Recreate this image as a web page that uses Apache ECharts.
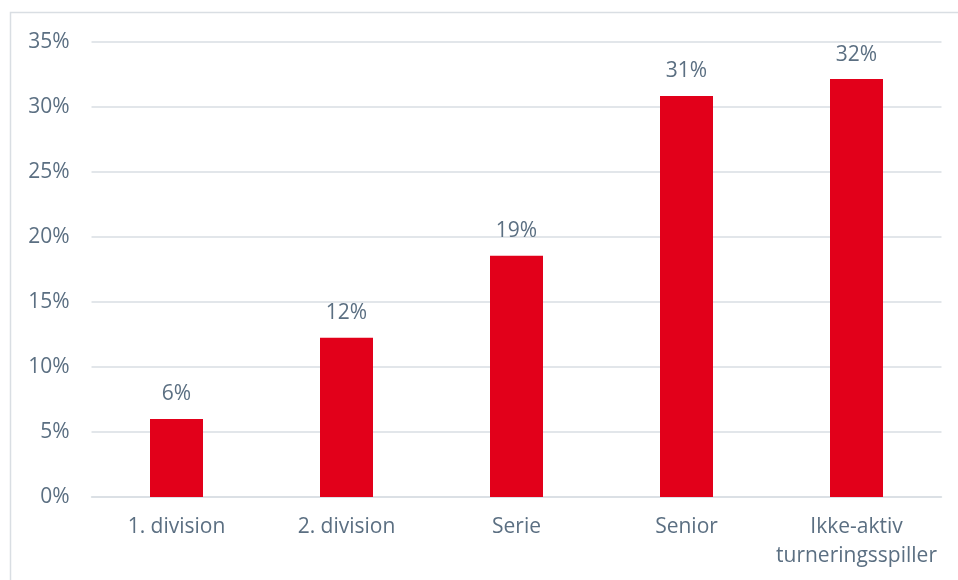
<!DOCTYPE html>
<html>
<head>
<meta charset="utf-8">
<script src="https://cdn.jsdelivr.net/npm/echarts@6/dist/echarts.min.js"></script>
<style>html,body{margin:0;padding:0;background:#fff}#c{width:958px;height:580px}</style>
</head>
<body>
<div id="c"></div>
<script>
const categories = ['1. division', '2. division', 'Serie', 'Senior', 'Ikke-aktiv\nturneringsspiller'];
const values = [6.0, 12.25, 18.55, 30.85, 32.15];
const yTicks = [0, 5, 10, 15, 20, 25, 30, 35];

const textColor = '#5B6F82';
const font = 'Open Sans';
const chart = echarts.init(document.getElementById('c'), null, {renderer: 'canvas'});
chart.setOption({
  animation: false,
  backgroundColor: '#fff',
  graphic: [{
    type: 'rect', silent: true,
    shape: {x: 10.5, y: 12.5, width: 1000, height: 1000},
    style: {fill: 'none', stroke: '#D9DEE3', lineWidth: 1.5}
  }],
  grid: {left: 91.5, right: 16.5, top: 42, bottom: 83, containLabel: false},
  xAxis: {
    type: 'category',
    data: categories,
    axisTick: {show: false},
    axisLine: {show: true, lineStyle: {color: '#D9DEE3', width: 1.5}},
    axisLabel: {color: textColor, fontFamily: font, fontSize: 21, lineHeight: 29, margin: 16, interval: 0}
  },
  yAxis: {
    type: 'value',
    min: yTicks[0], max: yTicks[yTicks.length - 1], interval: 5,
    axisLine: {show: false},
    axisTick: {show: false},
    splitLine: {lineStyle: {color: '#D9DEE3', width: 1.5}},
    axisLabel: {color: textColor, fontFamily: font, fontSize: 21, margin: 22, formatter: '{value}%'}
  },
  series: [{
    type: 'bar',
    data: values,
    barWidth: 53,
    itemStyle: {color: '#E2001A'},
    label: {
      show: true, position: 'top', distance: 14,
      color: textColor, fontFamily: font, fontSize: 21,
      formatter: p => Math.round(p.value) + '%'
    }
  }]
});
</script>
</body>
</html>
